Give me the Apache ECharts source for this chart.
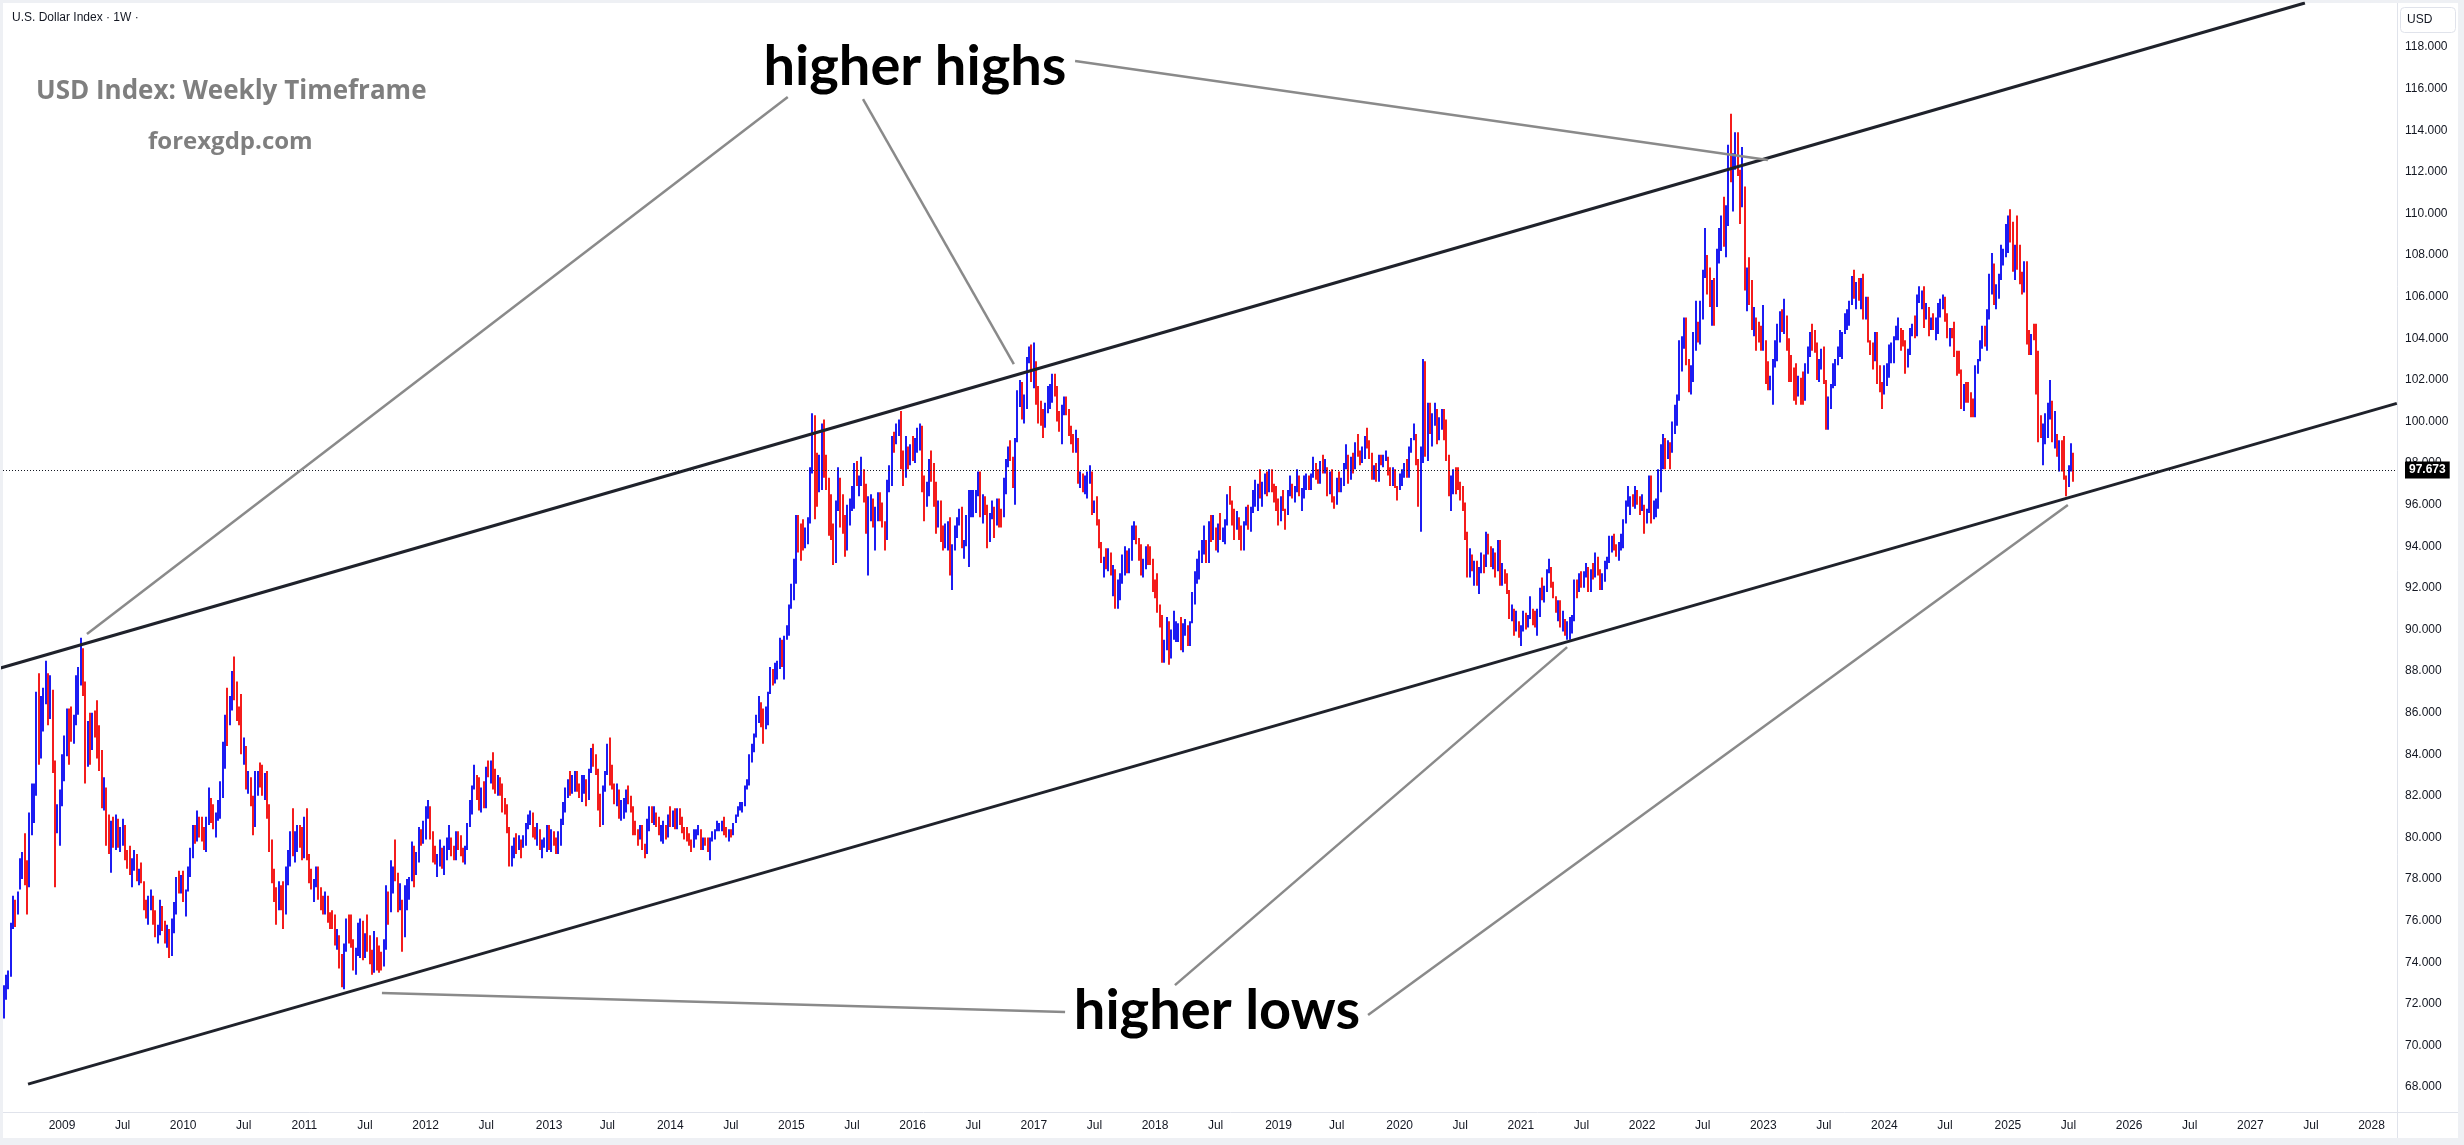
<!DOCTYPE html>
<html><head><meta charset="utf-8">
<script src="https://cdn.jsdelivr.net/npm/echarts@6/dist/echarts.min.js"></script>
<style>html,body{margin:0;padding:0;background:#eef0f4;}#c{width:2464px;height:1145px;}</style>
</head><body><div id="c"></div>
<script>
// ---- weekly bars: [high, low, close] (open = previous close) ----
const wk2008 = [[73.2,72.1,72.4],[72.9,71.3,72.5],[73.4,72.2,73.3],[73.6,72.7,73.3],[75.9,73.3,75.8],[77.2,75.6,76.9],[77.0,75.7,76.0],[77.4,76.3,77.1],[79.0,77.5,78.5],[79.3,78.0,78.9],[80.2,77.7,78.1],[78.9,76.3,77.9],[81.2,77.6,80.6],[82.6,80.1,82.1],[82.6,80.7,82.2],[87.0,82.0,86.2],[87.9,83.5,85.0],[86.8,83.8,86.0],[87.2,85.1,86.7],[88.5,86.4,87.9],[87.9,85.4,86.4],[87.8,85.7,87.3],[87.1,83.1,83.7],[83.7,77.6,80.4],[81.6,80.2,81.0]];
const wk2009 = [[82.3,79.6,82.0],[84.0,81.5,83.5],[84.9,82.7,84.0],[86.2,83.9,85.6],[86.2,83.5,85.4],[86.3,84.6,85.0],[85.9,84.5,85.7],[87.8,85.4,86.6],[88.2,85.9,88.1],[89.6,87.3,88.8],[89.1,86.8,87.0],[87.5,82.6,83.7],[85.6,83.4,85.2],[86.0,83.5,84.6],[86.0,84.2,85.9],[86.1,84.8,85.6],[86.6,83.8,84.3],[85.4,83.2,83.3],[84.2,81.4,81.6],[82.9,81.3,82.3],[82.4,79.6,79.9],[81.1,79.2,79.3],[80.8,78.3,80.5],[81.0,79.5,80.0],[81.1,79.4,80.6],[80.9,79.5,79.8],[80.5,79.3,80.2],[80.9,79.6,80.3],[80.6,78.9,79.1],[79.4,78.5,78.6],[79.6,78.2,78.4],[79.0,77.6,78.7],[79.4,78.4,78.9],[79.2,77.9,78.0],[78.5,77.7,78.2],[78.8,77.8,77.9],[77.9,76.5,76.8],[77.0,76.1,76.4],[77.2,75.8,77.0],[77.5,76.5,77.0],[77.2,75.8,76.3],[76.5,75.2,75.5],[75.8,74.9,75.6],[77.0,75.3,76.4],[76.7,75.5,75.6],[76.0,74.9,75.2],[75.8,74.7,75.5],[75.6,74.2,75.1],[76.1,74.3,75.9],[76.9,75.4,76.6],[78.1,76.3,77.9],[78.4,77.3,77.8]];
const wk2010 = [[78.2,77.3,77.9],[78.4,76.9,77.1],[77.5,76.2,77.4],[78.6,77.4,78.3],[79.5,78.1,79.4],[80.6,79.0,80.4],[80.6,79.7,80.3],[81.3,79.8,80.5],[81.0,80.0,80.4],[81.0,79.8,80.2],[80.5,79.4,79.6],[81.0,79.3,80.9],[82.4,80.6,81.9],[81.9,80.7,81.1],[81.6,80.4,80.6],[81.2,80.0,81.0],[81.8,80.8,81.3],[82.7,80.9,81.9],[84.6,81.9,84.2],[85.9,83.3,85.5],[87.2,84.4,85.4],[86.8,85.4,86.3],[88.0,86.1,87.9],[88.7,86.6,87.0],[87.5,85.6,85.8],[86.3,85.4,85.6],[86.9,84.0,84.2],[84.8,83.5,84.2],[84.4,82.3,82.5],[83.2,82.1,82.8],[82.9,81.5,81.6],[82.0,80.1,80.5],[83.2,80.5,82.6],[83.2,82.0,82.8],[83.6,82.4,82.7],[83.5,82.0,82.1],[83.1,81.8,82.9],[83.2,80.9,81.1],[81.6,79.3,79.4],[79.9,77.8,78.0],[78.5,76.9,77.3],[77.6,75.8,76.5],[77.9,76.5,77.2],[77.7,76.5,76.8],[77.9,75.6,76.3],[78.6,76.3,78.0],[79.4,77.7,78.4],[80.3,78.6,80.2],[81.4,79.1,79.3],[80.3,78.8,80.0],[80.6,79.3,80.4],[80.6,79.5,80.0],[80.5,78.9,79.0]];
const wk2011 = [[81.0,79.0,80.9],[81.4,78.9,79.1],[79.2,77.8,78.1],[78.5,77.5,77.9],[78.0,76.9,77.9],[78.6,77.6,78.2],[78.6,77.0,77.1],[77.6,76.5,76.7],[77.2,76.3,76.5],[77.4,76.3,76.8],[77.2,75.9,76.1],[76.4,75.6,76.0],[76.5,75.6,75.9],[76.3,74.8,74.9],[75.6,74.6,74.9],[75.3,73.7,73.9],[74.4,72.8,72.9],[74.9,72.7,74.6],[76.1,74.5,75.9],[76.3,74.9,75.4],[76.3,74.7,74.8],[75.1,73.6,73.7],[74.7,73.4,74.6],[75.9,74.3,75.2],[76.1,74.2,75.8],[76.0,74.1,74.3],[75.4,74.2,75.2],[76.3,74.5,74.9],[75.3,73.9,74.2],[74.6,73.4,73.6],[75.5,73.5,74.8],[75.2,73.6,74.6],[74.8,73.5,74.0],[74.5,73.6,73.8],[75.1,73.8,74.9],[77.7,74.6,77.4],[77.4,75.8,76.6],[78.9,76.4,78.0],[78.6,77.3,78.5],[79.9,77.9,78.0],[78.3,76.4,76.6],[77.8,76.5,76.9],[77.0,74.5,75.4],[77.7,75.2,76.6],[78.0,76.5,77.1],[78.1,77.0,77.9],[79.8,77.9,79.5],[79.6,77.6,78.3],[79.3,78.2,78.7],[80.5,78.8,80.1],[80.4,79.6,79.9],[80.8,79.7,80.2]];
const wk2012 = [[81.5,79.9,81.3],[81.8,80.9,81.4],[81.5,79.9,80.2],[80.3,78.8,79.0],[79.6,78.7,78.9],[79.2,78.1,79.1],[79.9,78.6,79.3],[79.5,78.5,78.6],[79.6,78.2,79.5],[80.0,78.9,79.9],[80.6,79.4,79.9],[80.0,79.1,79.3],[79.6,78.9,79.0],[80.3,78.9,79.9],[80.3,79.4,79.8],[80.1,79.1,79.3],[79.5,78.8,79.0],[79.6,78.7,79.5],[80.7,79.4,80.5],[81.8,80.5,81.4],[82.5,81.1,82.4],[83.5,82.3,83.0],[83.0,81.8,82.4],[82.9,81.3,81.5],[82.4,81.2,82.3],[82.7,81.4,81.6],[83.4,81.4,83.3],[83.7,82.9,83.2],[83.7,82.6,83.6],[84.1,82.3,82.7],[83.3,82.1,82.3],[83.0,82.0,82.6],[82.9,82.0,82.5],[82.6,81.2,81.5],[81.9,81.1,81.2],[81.6,80.2,80.3],[80.5,78.6,78.9],[79.6,78.6,79.1],[80.0,79.0,79.9],[80.2,79.2,79.7],[80.1,79.4,79.8],[79.9,79.0,79.7],[80.1,79.5,80.0],[80.7,79.6,80.6],[81.1,80.4,81.0],[81.3,80.6,81.1],[81.2,80.0,80.2],[80.5,79.9,80.1],[80.7,79.6,80.5],[80.4,79.4,79.6],[79.9,79.0,79.6],[80.0,79.5,79.8]];
const wk2013 = [[80.6,79.3,80.5],[80.6,79.4,79.5],[80.4,79.3,80.0],[80.3,79.6,79.9],[80.0,79.2,79.3],[80.3,79.2,80.2],[80.9,79.6,80.8],[81.7,80.6,81.5],[82.4,81.2,82.2],[82.8,81.9,82.6],[83.2,82.0,82.3],[83.0,82.1,82.4],[83.2,82.2,83.0],[83.2,82.2,82.4],[82.6,81.9,82.0],[83.0,81.7,82.6],[83.0,82.1,82.9],[82.8,81.5,82.1],[83.3,81.8,83.2],[84.3,83.1,84.2],[84.5,83.4,83.9],[84.0,83.0,83.2],[83.3,81.3,81.7],[82.1,80.5,80.8],[82.5,80.6,82.4],[83.2,82.2,83.1],[84.5,83.0,84.4],[84.8,82.5,83.0],[83.5,82.3,82.4],[82.6,81.6,81.7],[82.6,81.5,81.9],[82.3,80.9,81.0],[81.8,80.8,81.1],[81.9,80.9,81.4],[82.3,81.2,82.2],[82.5,81.6,81.8],[82.0,81.2,81.4],[81.5,80.1,80.4],[80.8,80.1,80.3],[80.4,79.6,80.1],[80.6,79.9,80.3],[80.6,79.4,79.6],[79.7,79.0,79.2],[80.9,79.2,80.8],[81.5,80.3,81.3],[81.5,80.7,80.9],[81.5,80.6,81.0],[81.2,80.5,80.7],[81.0,80.1,80.2],[80.6,79.8,80.2],[80.8,79.7,80.6],[80.6,79.9,80.0]];
const wk2014 = [[81.1,80.0,80.9],[81.5,80.5,80.7],[81.3,80.5,81.2],[81.4,80.4,80.5],[81.4,80.4,81.3],[81.4,80.6,80.7],[81.0,80.2,80.3],[80.5,79.9,80.2],[80.5,79.8,79.9],[80.2,79.6,79.7],[79.9,79.3,79.6],[80.4,79.5,80.2],[80.4,79.9,80.2],[80.6,80.1,80.4],[80.4,79.4,79.5],[80.0,79.4,79.9],[80.0,79.6,79.8],[80.0,79.3,79.6],[80.0,78.9,79.9],[80.3,79.8,80.1],[80.4,79.9,80.4],[80.8,80.3,80.4],[80.7,80.3,80.5],[80.8,80.3,80.6],[81.0,80.1,80.4],[80.5,80.0,80.1],[80.4,79.8,80.3],[80.4,80.0,80.2],[80.7,80.1,80.7],[81.1,80.7,81.0],[81.5,81.0,81.4],[81.7,81.3,81.4],[81.7,81.2,81.5],[82.5,81.5,82.4],[82.8,82.3,82.7],[84.0,82.5,83.7],[84.5,83.6,84.3],[85.0,84.1,84.8],[85.9,84.8,85.6],[86.8,85.5,86.7],[86.5,85.3,85.9],[86.2,84.5,85.3],[86.3,85.2,85.8],[87.0,85.4,87.0],[88.2,86.9,87.7],[88.1,87.3,87.6],[88.4,87.4,88.3],[88.5,87.6,88.4],[89.6,88.1,89.3],[89.5,88.2,88.4],[89.7,87.6,89.6],[90.2,89.5,89.8]];
const wk2015 = [[91.2,89.7,91.1],[92.2,91.0,91.9],[93.4,91.4,92.5],[95.5,92.2,95.1],[95.5,93.7,94.8],[95.1,93.3,94.5],[95.3,93.8,94.1],[94.9,93.9,94.4],[95.4,94.1,95.3],[97.8,95.1,97.6],[100.4,97.5,100.0],[100.3,95.3,97.8],[98.5,95.9,97.2],[98.4,96.6,97.6],[99.9,96.7,99.4],[100.1,97.3,97.5],[98.4,96.7,96.9],[97.3,94.5,95.2],[96.5,94.3,94.8],[95.1,93.1,93.2],[96.2,93.2,96.0],[97.8,95.7,96.9],[97.3,94.9,96.3],[96.5,94.6,95.1],[95.5,93.5,94.1],[96.0,93.8,95.4],[96.3,95.0,96.1],[96.9,95.7,96.1],[98.0,95.8,97.9],[98.1,96.9,97.2],[97.4,96.4,97.3],[98.3,96.9,97.5],[97.7,96.1,96.6],[97.0,94.6,94.9],[96.4,92.6,96.0],[96.5,95.2,96.2],[96.3,94.9,95.1],[95.9,93.8,95.2],[96.6,95.2,96.1],[96.6,95.2,96.0],[96.1,94.9,95.0],[95.2,93.8,94.7],[97.2,94.3,96.9],[97.9,96.6,97.0],[99.3,96.9,99.2],[99.5,98.5,99.1],[99.9,98.9,99.6],[100.1,99.3,100.0],[100.5,97.7,98.4],[98.6,96.9,97.6],[99.3,97.3,98.7],[98.8,97.7,98.0]];
const wk2016 = [[98.9,97.9,98.6],[99.3,98.1,98.5],[99.2,98.0,99.0],[99.7,98.5,99.6],[99.9,98.6,99.6],[99.8,96.6,97.0],[97.4,95.2,96.1],[97.1,95.9,96.6],[98.2,96.4,98.1],[98.6,97.1,97.3],[98.0,95.9,96.2],[97.1,94.6,95.1],[96.2,94.9,96.0],[96.2,94.2,94.6],[95.0,93.8,94.2],[95.1,93.9,94.6],[95.2,93.8,95.1],[95.4,92.6,93.0],[94.1,91.9,93.9],[95.0,93.8,94.6],[95.4,94.4,95.3],[95.8,95.0,95.5],[95.9,93.9,94.0],[94.3,93.4,94.1],[95.5,94.0,94.2],[96.7,93.0,95.5],[96.7,95.4,95.6],[96.7,95.4,96.3],[96.7,95.6,96.6],[97.6,96.4,97.4],[97.6,95.4,95.5],[96.5,95.1,96.2],[96.4,95.5,95.7],[96.0,93.9,94.5],[95.6,94.2,95.4],[96.2,95.3,95.8],[95.9,94.4,95.3],[96.3,95.0,96.1],[96.3,94.9,95.5],[95.8,94.9,95.4],[97.3,95.4,96.6],[98.2,96.5,98.1],[98.8,97.8,98.7],[99.1,98.1,98.3],[98.3,96.8,97.1],[99.2,96.0,99.1],[101.5,99.0,101.2],[102.0,100.7,101.5],[101.9,100.1,100.8],[101.3,99.9,101.1],[103.1,100.6,102.9],[103.6,102.8,103.0],[103.7,101.9,102.2]];
const wk2017 = [[103.8,101.6,102.2],[102.9,100.8,101.2],[101.7,99.9,100.7],[101.0,99.8,100.6],[100.6,99.2,99.8],[100.9,99.7,100.8],[101.7,100.4,100.9],[101.8,100.6,101.1],[102.3,100.9,101.5],[102.3,101.2,101.3],[101.7,100.0,100.3],[100.5,99.5,99.8],[100.8,98.9,100.4],[101.2,100.3,101.1],[101.2,100.3,100.5],[100.6,99.3,99.8],[99.8,98.9,99.0],[99.4,98.5,98.6],[99.6,98.5,99.2],[99.2,97.0,97.1],[97.6,96.8,97.4],[97.5,96.6,96.7],[97.4,96.5,97.2],[97.6,96.3,97.2],[97.9,97.0,97.3],[97.6,95.5,95.6],[96.2,95.6,96.0],[96.4,95.0,95.2],[95.3,93.9,94.0],[94.2,93.2,93.3],[93.5,92.5,93.5],[93.9,92.9,93.1],[93.9,92.8,93.4],[93.7,92.6,92.7],[93.1,91.6,92.8],[92.9,91.0,91.3],[92.4,91.0,91.9],[92.7,91.4,92.2],[93.6,92.2,93.1],[94.0,92.6,93.6],[93.8,92.7,93.1],[93.9,92.7,93.7],[95.0,93.3,94.8],[95.2,94.3,94.8],[95.0,94.1,94.4],[94.4,93.3,93.6],[94.1,92.6,92.8],[93.4,92.5,93.1],[94.0,92.9,93.9],[94.1,93.1,93.8],[94.0,93.1,93.3],[93.4,91.8,92.1]];
const wk2018 = [[92.4,91.5,91.9],[92.7,90.8,90.9],[91.2,90.1,90.6],[90.7,88.4,89.1],[89.5,88.4,89.2],[90.6,89.0,90.2],[90.4,88.3,89.1],[90.0,88.6,89.9],[90.9,89.5,89.9],[90.4,89.4,90.1],[90.3,89.4,90.2],[90.6,89.0,89.5],[90.3,88.9,90.1],[90.5,89.7,90.1],[90.2,89.2,89.8],[90.4,89.2,90.3],[91.8,90.3,91.5],[92.8,91.2,92.5],[93.4,92.2,92.5],[93.8,92.4,93.7],[94.3,93.2,94.2],[95.0,93.6,94.2],[94.3,93.2,93.5],[95.2,93.2,94.8],[95.5,94.2,94.5],[95.5,94.3,94.6],[94.9,93.8,94.0],[95.1,93.7,94.7],[95.6,94.3,94.5],[94.9,94.2,94.7],[95.3,94.1,95.2],[96.5,95.0,96.4],[96.9,96.0,96.1],[96.2,95.0,95.2],[95.8,94.3,95.1],[95.7,94.8,95.4],[95.4,94.3,94.9],[95.0,93.8,93.9],[95.2,93.8,95.1],[95.9,95.0,95.6],[96.0,94.8,95.0],[95.9,94.7,95.7],[96.7,95.6,96.4],[97.2,95.9,96.5],[97.0,95.7,96.9],[97.7,96.3,96.5],[97.1,95.9,96.9],[97.5,96.5,97.3],[97.6,96.4,96.6],[97.7,96.6,97.5],[97.7,96.6,96.9],[97.0,96.1,96.4]];
const wk2019 = [[96.9,95.7,96.2],[96.3,95.0,95.6],[96.4,95.2,96.4],[96.7,95.7,95.8],[95.8,94.8,95.6],[96.7,95.5,96.6],[97.4,96.4,96.9],[97.0,96.3,96.5],[96.9,96.1,96.8],[97.7,96.6,97.3],[97.4,96.4,96.6],[96.8,95.7,96.6],[97.4,96.3,97.3],[97.5,96.7,97.4],[97.4,96.7,96.9],[97.5,96.7,97.4],[98.3,97.3,98.0],[98.0,97.2,97.5],[97.7,97.0,97.3],[98.1,97.0,98.0],[98.4,97.5,97.6],[98.2,97.5,97.7],[97.8,96.4,96.5],[97.6,96.5,97.5],[97.7,96.1,96.2],[96.4,95.8,96.1],[97.3,96.0,97.2],[97.6,96.6,96.8],[97.3,96.6,97.1],[98.0,96.9,97.9],[98.9,97.7,98.0],[98.4,97.0,97.5],[98.3,97.2,98.1],[98.5,97.5,97.6],[99.0,97.7,98.9],[99.4,98.3,98.4],[98.6,97.9,98.3],[98.8,98.0,98.5],[99.3,98.2,99.1],[99.7,98.7,98.8],[99.1,98.2,98.3],[98.5,97.2,97.3],[97.9,97.2,97.8],[98.0,97.1,97.2],[98.4,97.1,98.3],[98.4,97.9,98.0],[98.4,97.8,98.3],[98.6,98.1,98.3],[98.3,97.4,97.7],[97.8,96.9,97.2],[97.8,96.9,97.7],[97.7,96.8,96.9]];
const wk2020 = [[96.9,96.2,96.8],[97.5,96.7,97.4],[97.7,96.9,97.6],[98.0,97.3,97.9],[98.2,97.3,97.4],[98.8,97.3,98.7],[99.2,98.5,99.1],[99.9,99.1,99.2],[99.4,97.9,98.1],[98.2,95.9,96.0],[98.8,94.7,98.7],[103.0,98.0,102.8],[102.9,98.3,98.4],[100.9,98.1,100.6],[100.9,99.4,99.5],[100.4,98.8,99.8],[100.9,99.8,100.4],[100.6,98.9,99.0],[100.2,99.1,99.7],[100.6,99.6,100.4],[100.6,99.1,99.9],[100.1,98.1,98.3],[98.4,96.4,96.9],[97.4,95.7,97.3],[97.7,96.5,97.6],[97.8,96.5,97.4],[97.8,96.7,96.9],[97.1,96.2,96.6],[96.9,95.7,95.9],[96.1,94.3,94.4],[94.7,92.5,93.4],[93.9,92.5,93.4],[93.6,92.8,93.1],[93.3,92.1,93.2],[93.3,92.1,92.4],[93.0,91.7,92.8],[93.7,92.7,93.3],[93.6,92.7,92.9],[94.7,93.0,94.6],[94.6,93.6,93.8],[94.0,93.0,93.1],[93.9,92.9,93.7],[93.7,92.5,92.8],[94.3,92.8,94.0],[94.3,92.1,92.2],[93.2,92.1,92.8],[92.9,92.2,92.4],[92.7,91.7,91.8],[91.9,90.5,90.7],[91.2,90.4,91.0],[91.0,89.7,90.0],[90.9,89.9,90.2]];
const wk2021 = [[90.4,89.6,89.9],[90.2,89.2,90.1],[90.9,89.9,90.8],[90.8,90.0,90.2],[90.7,90.1,90.6],[91.6,90.5,91.0],[91.0,90.2,90.5],[90.9,90.1,90.4],[91.0,89.7,90.9],[92.0,90.6,91.9],[92.5,91.4,91.7],[92.1,91.3,91.9],[92.9,91.8,92.8],[93.4,92.7,93.0],[93.0,92.0,92.2],[92.3,91.5,91.6],[91.6,90.8,90.9],[91.4,90.4,91.3],[91.4,90.1,90.2],[90.9,89.9,90.3],[90.5,89.7,90.0],[90.4,89.5,90.0],[90.6,89.5,90.1],[90.7,89.8,90.5],[92.4,90.4,92.2],[92.4,91.5,91.8],[92.7,91.8,92.2],[92.8,92.0,92.1],[92.8,92.0,92.7],[93.2,92.5,92.9],[93.0,91.8,92.2],[92.9,91.8,92.8],[93.2,92.4,92.5],[93.7,92.5,93.5],[93.5,92.6,92.7],[92.9,91.9,92.0],[92.7,91.9,92.6],[93.3,92.3,93.2],[93.5,92.9,93.3],[94.5,93.2,94.0],[94.5,93.7,94.1],[94.6,93.8,93.9],[94.1,93.5,93.6],[94.2,93.3,94.1],[94.6,93.8,94.3],[95.3,93.9,95.1],[96.2,95.1,96.0],[96.9,95.9,96.1],[96.4,95.5,96.2],[96.5,95.9,96.1],[96.9,95.8,96.6],[96.7,96.0,96.1],[96.4,95.5,95.7]];
const wk2022 = [[96.5,95.7,95.8],[96.0,94.6,95.2],[95.8,95.1,95.6],[97.4,95.6,97.3],[97.4,95.1,95.4],[96.2,95.3,96.0],[96.3,95.4,96.1],[97.7,95.8,96.6],[98.9,96.6,98.6],[99.4,97.7,99.1],[99.2,97.7,98.2],[99.1,98.2,98.8],[99.0,97.7,98.6],[100.0,98.5,99.8],[100.8,99.4,100.5],[101.3,99.8,101.2],[103.9,101.0,103.0],[104.1,102.4,103.7],[105.0,103.5,104.6],[105.0,102.7,103.0],[103.0,101.4,101.7],[102.7,101.3,102.1],[104.3,101.9,104.2],[105.8,103.4,104.7],[104.8,103.8,104.2],[105.8,103.7,105.1],[107.3,104.9,106.9],[109.3,106.9,108.1],[108.0,106.1,106.7],[107.4,105.5,105.9],[106.8,104.6,106.6],[106.9,104.6,105.6],[108.3,105.5,108.1],[109.3,107.6,108.8],[109.9,108.2,109.6],[110.8,108.4,109.0],[110.4,107.9,109.7],[113.3,109.4,113.2],[114.8,111.5,112.1],[112.9,110.1,112.8],[113.9,112.1,113.3],[113.9,111.8,111.9],[112.1,109.5,110.7],[113.2,110.3,110.8],[111.3,106.3,106.4],[107.4,105.3,106.9],[107.9,105.6,106.0],[106.8,104.4,104.6],[105.5,104.1,104.8],[105.0,103.4,104.7],[104.8,103.8,104.3],[104.6,103.4,103.5]];
const wk2023 = [[105.6,103.4,103.9],[103.9,101.8,102.2],[102.9,101.5,101.9],[102.2,101.5,101.9],[103.0,100.8,102.9],[103.9,102.6,103.6],[104.7,102.9,103.9],[105.3,103.8,105.2],[105.4,104.3,104.5],[105.9,104.2,104.6],[105.1,103.4,103.8],[104.0,101.9,103.1],[103.2,101.9,102.5],[102.6,101.0,102.1],[102.8,100.8,101.5],[102.2,101.2,101.8],[102.1,100.8,101.7],[102.4,100.8,101.3],[102.8,101.0,102.7],[103.6,102.3,103.2],[104.3,103.1,104.2],[104.7,103.4,104.0],[104.4,103.3,103.6],[103.8,102.0,102.3],[103.0,101.9,102.9],[103.5,102.5,102.9],[103.6,101.8,101.9],[102.0,99.6,99.9],[101.2,99.6,101.1],[101.8,100.6,101.6],[102.8,101.6,102.0],[103.0,101.7,102.8],[103.6,102.7,103.4],[104.4,103.1,104.1],[104.3,103.0,104.2],[105.2,104.2,105.1],[105.4,104.4,105.3],[105.8,104.6,105.6],[107.0,105.6,106.2],[107.3,105.9,106.0],[106.7,105.4,106.6],[106.9,105.8,106.2],[106.9,105.4,106.6],[107.1,104.9,105.0],[106.0,104.9,105.9],[106.0,103.8,103.9],[103.9,103.2,103.4],[103.8,102.5,103.3],[104.3,102.9,104.0],[104.3,101.8,102.6],[102.7,101.4,101.7],[101.9,100.6,101.3]];
const wk2024 = [[102.7,101.3,102.4],[102.8,101.7,102.4],[103.7,102.1,103.3],[103.8,102.8,103.4],[104.1,102.8,104.0],[104.6,103.9,104.1],[105.0,103.9,104.3],[104.5,103.4,103.9],[104.4,103.6,103.8],[103.9,102.3,102.7],[103.5,102.6,103.4],[104.5,103.2,104.4],[104.7,104.1,104.5],[105.1,104.0,104.3],[106.1,104.1,106.0],[106.5,105.7,106.1],[106.3,105.4,106.1],[106.5,104.5,105.0],[105.7,104.9,105.3],[105.5,104.1,104.5],[105.0,104.4,104.7],[105.2,104.4,104.6],[105.0,103.9,104.9],[105.7,104.2,105.5],[105.9,105.0,105.8],[106.1,105.4,105.9],[106.0,104.8,104.9],[105.2,104.0,104.1],[104.5,103.6,104.4],[104.5,104.0,104.3],[104.8,103.1,103.2],[103.4,102.2,103.1],[103.4,102.3,102.4],[102.5,100.6,100.7],[101.8,100.5,101.7],[101.9,100.9,101.2],[101.9,100.9,101.1],[101.4,100.2,100.7],[101.1,100.2,100.4],[102.7,100.2,102.5],[103.0,102.3,102.9],[103.9,102.9,103.5],[104.6,103.5,104.3],[104.6,103.6,104.2],[105.4,103.4,105.0],[107.1,104.9,106.7],[108.1,106.1,107.5],[107.6,105.6,105.7],[106.6,105.4,106.0],[107.1,105.9,107.0],[108.5,106.8,107.8],[108.3,107.5,108.0]];
const wk2025 = [[109.5,107.9,108.9],[109.9,108.1,109.7],[110.2,108.6,109.4],[109.6,107.2,107.4],[108.5,106.8,108.4],[109.9,107.3,108.1],[108.5,106.6,106.7],[107.2,106.1,106.6],[107.7,106.2,107.6],[107.7,103.7,103.8],[104.4,103.2,103.7],[104.2,103.2,104.1],[104.7,103.9,104.0],[104.7,101.3,103.0],[103.4,99.0,100.1],[100.3,99.2,99.4],[99.9,97.9,99.5],[100.4,98.9,100.0],[100.9,99.2,100.4],[102.0,100.1,100.9],[101.0,99.0,99.1],[100.5,98.7,99.4],[99.4,98.3,98.6],[99.1,97.6,98.9],[99.1,97.6,98.7],[99.3,97.2,97.4],[97.4,96.4,97.0],[97.9,96.85,97.85],[98.95,97.6,98.5],[98.5,97.1,97.673]];

// Monday of the first bar of each block
const blockStarts = ['2008-07-07','2008-12-29','2009-12-28','2011-01-03','2012-01-02','2012-12-31','2013-12-30','2014-12-29','2015-12-28','2017-01-02','2018-01-01','2018-12-31','2019-12-30','2020-12-28','2022-01-03','2023-01-02','2024-01-01','2024-12-30'];
const blockBars = [wk2008,wk2009,wk2010,wk2011,wk2012,wk2013,wk2014,wk2015,wk2016,wk2017,wk2018,wk2019,wk2020,wk2021,wk2022,wk2023,wk2024,wk2025];
const firstOpen = 72.9;
const lastPrice = 97.673;
const priceTicks = [68,70,72,74,76,78,80,82,84,86,88,90,92,94,96,98,100,102,104,106,108,110,112,114,116,118];
const timeYears = [2009,2010,2011,2012,2013,2014,2015,2016,2017,2018,2019,2020,2021,2022,2023,2024,2025,2026,2027,2028];

// drawings (date, price)
const upperChannel = [['2008-07-03',88.14],['2027-06-17',120.12]];
const lowerChannel = [['2008-09-25',68.14],['2028-03-19',100.87]];
const pointerLines = [
  [['2014-12-25',115.6],['2009-03-21',89.78]],
  [['2015-08-08',115.5],['2016-11-03',102.76]],
  [['2017-05-06',117.33],['2023-01-16',112.57]],
  [['2011-08-24',72.52],['2017-04-06',71.61]],
  [['2018-03-02',72.9],['2021-05-23',89.15]],
  [['2019-10-03',71.46],['2025-07-05',95.98]]
];
const calloutText = ['higher highs','higher lows'];
const calloutPos = [['2016-01-11',117.03],['2018-07-06',71.68]];

// ---- build ----
const DAY = 864e5;
const ts = s => Date.parse(s + 'T00:00:00Z');
const bars = [];
let prevClose = firstOpen;
blockBars.forEach((blk, bi) => {
  const t0 = ts(blockStarts[bi]);
  blk.forEach((b, i) => {
    bars.push([t0 + i * 7 * DAY, b[0], b[1], prevClose, b[2]]);
    prevClose = b[2];
  });
});
const firstMonday = (y, m) => { let d = Date.UTC(y, m, 1); while (new Date(d).getUTCDay() !== 1) d += DAY; return d; };
const timeTicks = [];
timeYears.forEach(y => { timeTicks.push(firstMonday(y, 0)); if (y < 2028) timeTicks.push(firstMonday(y, 6)); });

const T0 = Date.UTC(2009, 0, 5), YEAR = 365.25 * DAY, PXY = 121.6;
const xMin = T0 - (62 - 3) / PXY * YEAR, xMax = T0 + (2397 - 62) / PXY * YEAR;
const UP = '#1c1cf2', DOWN = '#f41c1c';
const toPts = arr => arr.map(p => [ts(p[0]), p[1]]);

const series = [];
series.push({
  type: 'custom', name: 'bars', clip: true, z: 3,
  encode: { x: 0, y: [1, 2] },
  data: bars,
  renderItem: (params, api) => {
    const t = api.value(0);
    const p1 = api.coord([t, api.value(1)]);
    const p2 = api.coord([t, api.value(2)]);
    const up = api.value(4) >= api.value(3);
    return { type: 'rect', shape: { x: Math.round(p1[0]) - 1, y: p1[1], width: 2, height: Math.max(1, p2[1] - p1[1]) },
      style: { fill: up ? UP : DOWN } };
  }
});
series.push({ type: 'line', data: toPts(upperChannel), symbol: 'none', silent: true, z: 4,
  lineStyle: { color: '#1f222b', width: 3 }, animation: false });
series.push({ type: 'line', data: toPts(lowerChannel), symbol: 'none', silent: true, z: 4, clip: false,
  lineStyle: { color: '#1f222b', width: 3 }, animation: false,
  markLine: { silent: true, symbol: ['none', 'none'], animation: false,
    lineStyle: { type: [1, 2], color: '#131722', width: 1 },
    label: { position: 'end', distance: 8, formatter: () => lastPrice.toFixed(3), color: '#fff', backgroundColor: '#000',
      padding: [3, 4, 2, 4], fontSize: 12, fontWeight: 'bold', fontFamily: 'Liberation Sans' },
    data: [{ yAxis: lastPrice }] } });
pointerLines.forEach(seg => series.push({ type: 'line', data: toPts(seg), symbol: 'none', silent: true, z: 5,
  lineStyle: { color: '#8a8a8a', width: 2.5 }, animation: false }));
series.push({
  type: 'custom', name: 'callouts', clip: false, z: 6,
  data: calloutPos.map((p, i) => [ts(p[0]), p[1], i]),
  renderItem: (params, api) => {
    const p = api.coord([api.value(0), api.value(1)]);
    return { type: 'text', x: p[0], y: p[1], style: { text: calloutText[api.value(2)], fill: '#000',
      font: 'bold 56px Lato', align: 'center', verticalAlign: 'middle' } };
  }
});

const chart = echarts.init(document.getElementById('c'), null, { renderer: 'canvas' });
chart.setOption({
  animation: false,
  backgroundColor: '#eef0f4',
  graphic: [
    { type: 'rect', z: -10, silent: true, shape: { x: 3, y: 3, width: 2455, height: 1135 }, style: { fill: '#ffffff' } },
    { type: 'line', z: 1, silent: true, shape: { x1: 2397.5, y1: 3, x2: 2397.5, y2: 1138 }, style: { stroke: '#e0e3eb', lineWidth: 1 } },
    { type: 'line', z: 1, silent: true, shape: { x1: 3, y1: 1112.5, x2: 2458, y2: 1112.5 }, style: { stroke: '#e0e3eb', lineWidth: 1 } }
  ],
  title: [
    { text: 'U.S. Dollar Index · 1W ·', left: 12, top: 11, padding: 0,
      textStyle: { fontSize: 12, fontWeight: 'normal', color: '#131722', fontFamily: 'Liberation Sans', lineHeight: 14 } },
    { text: 'USD Index: Weekly Timeframe', left: 36, top: 79, padding: 0,
      textStyle: { fontSize: 26, fontWeight: 'bold', color: '#7f7f7f', fontFamily: 'Open Sans', lineHeight: 26 } },
    { text: 'forexgdp.com', left: 148, top: 130, padding: 0,
      textStyle: { fontSize: 24, fontWeight: 'bold', color: '#7f7f7f', fontFamily: 'Open Sans', lineHeight: 24 } },
    { text: 'USD', left: 2400, top: 7, padding: [6, 23, 6, 7], borderColor: '#e0e3eb', borderWidth: 1, borderRadius: 4,
      textStyle: { fontSize: 12, fontWeight: 'normal', color: '#131722', fontFamily: 'Liberation Sans', lineHeight: 14 } }
  ],
  grid: { left: 3, right: 67, top: 3, bottom: 33, containLabel: false },
  xAxis: {
    type: 'value', min: xMin, max: xMax,
    axisLine: { show: false }, axisTick: { show: false }, splitLine: { show: false },
    axisLabel: { customValues: timeTicks, margin: 8, color: '#131722', fontSize: 12, fontFamily: 'Liberation Sans',
      formatter: v => { const d = new Date(v); return d.getUTCMonth() === 0 ? String(d.getUTCFullYear()) : 'Jul'; } }
  },
  yAxis: {
    type: 'value', position: 'right', min: 66.8, max: 120.12, scale: true,
    axisLine: { show: false }, axisTick: { show: false }, splitLine: { show: false },
    axisLabel: { customValues: priceTicks, margin: 8, color: '#131722', fontSize: 12, fontFamily: 'Liberation Sans',
      formatter: v => v.toFixed(3) }
  },
  series: series
});
</script></body></html>
